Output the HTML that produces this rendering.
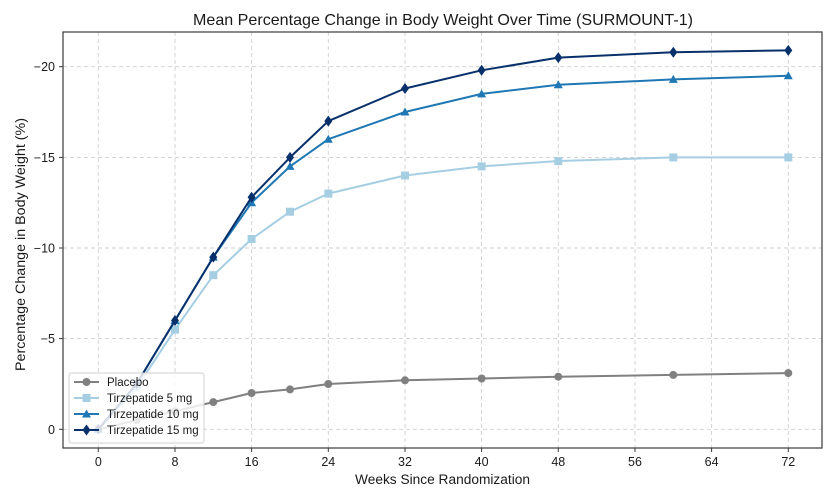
<!DOCTYPE html>
<html>
<head>
<meta charset="utf-8">
<style>
  html,body{margin:0;padding:0;background:#fff;}
  svg{display:block;}
  text{font-family:"Liberation Sans", "DejaVu Sans", sans-serif;fill:#1a1a1a;}
</style>
</head>
<body>
<svg width="834" height="500" viewBox="0 0 834 500" xmlns="http://www.w3.org/2000/svg">
  <rect x="0" y="0" width="834" height="500" fill="#fff"/>
  <text x="193" y="25" font-size="16" textLength="500" lengthAdjust="spacingAndGlyphs">Mean Percentage Change in Body Weight Over Time (SURMOUNT-1)</text>

  <g stroke="#cfcfcf" stroke-width="0.9" stroke-dasharray="4,3" fill="none">
    <line x1="98.3" y1="32" x2="98.3" y2="448"/>
    <line x1="175" y1="32" x2="175" y2="448"/>
    <line x1="251.6" y1="32" x2="251.6" y2="448"/>
    <line x1="328.3" y1="32" x2="328.3" y2="448"/>
    <line x1="405" y1="32" x2="405" y2="448"/>
    <line x1="481.6" y1="32" x2="481.6" y2="448"/>
    <line x1="558.3" y1="32" x2="558.3" y2="448"/>
    <line x1="635" y1="32" x2="635" y2="448"/>
    <line x1="711.6" y1="32" x2="711.6" y2="448"/>
    <line x1="788.3" y1="32" x2="788.3" y2="448"/>
    <line x1="63" y1="429.3" x2="822" y2="429.3"/>
    <line x1="63" y1="338.6" x2="822" y2="338.6"/>
    <line x1="63" y1="248" x2="822" y2="248"/>
    <line x1="63" y1="157.4" x2="822" y2="157.4"/>
    <line x1="63" y1="66.7" x2="822" y2="66.7"/>
  </g>

  <g>
    <polyline fill="none" stroke="#808080" stroke-width="2" stroke-linejoin="round"
      points="98.3,429.3 136.6,420.2 175,411.2 213.3,402.1 251.6,393 290,389.4 328.3,384 405,380.3 481.6,378.5 558.3,376.7 673.3,374.9 788.3,373.1"/>
    <g fill="#808080">
      <circle cx="98.3" cy="429.3" r="4"/><circle cx="136.6" cy="420.2" r="4"/><circle cx="175" cy="411.2" r="4"/>
      <circle cx="213.3" cy="402.1" r="4"/><circle cx="251.6" cy="393" r="4"/><circle cx="290" cy="389.4" r="4"/>
      <circle cx="328.3" cy="384" r="4"/><circle cx="405" cy="380.3" r="4"/><circle cx="481.6" cy="378.5" r="4"/>
      <circle cx="558.3" cy="376.7" r="4"/><circle cx="673.3" cy="374.9" r="4"/><circle cx="788.3" cy="373.1" r="4"/>
    </g>
  </g>

  <g>
    <polyline fill="none" stroke="#a6cee3" stroke-width="2" stroke-linejoin="round"
      points="98.3,429.3 136.6,387.6 175,329.6 213.3,275.2 251.6,239 290,211.7 328.3,193.6 405,175.5 481.6,166.4 558.3,161 673.3,157.4 788.3,157.4"/>
    <g fill="#a6cee3">
      <rect x="94.3" y="425.3" width="8" height="8"/><rect x="132.6" y="383.6" width="8" height="8"/>
      <rect x="171" y="325.6" width="8" height="8"/><rect x="209.3" y="271.2" width="8" height="8"/>
      <rect x="247.6" y="235" width="8" height="8"/><rect x="286" y="207.7" width="8" height="8"/>
      <rect x="324.3" y="189.6" width="8" height="8"/><rect x="401" y="171.5" width="8" height="8"/>
      <rect x="477.6" y="162.4" width="8" height="8"/><rect x="554.3" y="157" width="8" height="8"/>
      <rect x="669.3" y="153.4" width="8" height="8"/><rect x="784.3" y="153.4" width="8" height="8"/>
    </g>
  </g>

  <g>
    <polyline fill="none" stroke="#1f78b4" stroke-width="2" stroke-linejoin="round"
      points="98.3,429.3 136.6,384 175,320.5 213.3,257.1 251.6,202.7 290,166.4 328.3,139.2 405,112 481.6,93.9 558.3,84.8 673.3,79.4 788.3,75.8"/>
    <g fill="#1f78b4">
      <polygon points="98.3,424.8 102.8,432.8 93.8,432.8"/>
      <polygon points="136.6,379.5 141.1,387.5 132.1,387.5"/>
      <polygon points="175,316 179.5,324 170.5,324"/>
      <polygon points="213.3,252.6 217.8,260.6 208.8,260.6"/>
      <polygon points="251.6,198.2 256.1,206.2 247.1,206.2"/>
      <polygon points="290,161.9 294.5,169.9 285.5,169.9"/>
      <polygon points="328.3,134.7 332.8,142.7 323.8,142.7"/>
      <polygon points="405,107.5 409.5,115.5 400.5,115.5"/>
      <polygon points="481.6,89.4 486.1,97.4 477.1,97.4"/>
      <polygon points="558.3,80.3 562.8,88.3 553.8,88.3"/>
      <polygon points="673.3,74.9 677.8,82.9 668.8,82.9"/>
      <polygon points="788.3,71.3 792.8,79.3 783.8,79.3"/>
    </g>
  </g>

  <g>
    <polyline fill="none" stroke="#08306b" stroke-width="2" stroke-linejoin="round"
      points="98.3,429.3 136.6,384 175,320.5 213.3,257.1 251.6,197.2 290,157.4 328.3,121.1 405,88.5 481.6,70.3 558.3,57.6 673.3,52.2 788.3,50.4"/>
    <g fill="#08306b">
      <polygon points="98.3,423.8 102.3,429.3 98.3,434.8 94.3,429.3"/>
      <polygon points="136.6,378.5 140.6,384 136.6,389.5 132.6,384"/>
      <polygon points="175,315 179,320.5 175,326 171,320.5"/>
      <polygon points="213.3,251.6 217.3,257.1 213.3,262.6 209.3,257.1"/>
      <polygon points="251.6,191.7 255.6,197.2 251.6,202.7 247.6,197.2"/>
      <polygon points="290,151.9 294,157.4 290,162.9 286,157.4"/>
      <polygon points="328.3,115.6 332.3,121.1 328.3,126.6 324.3,121.1"/>
      <polygon points="405,83 409,88.5 405,94 401,88.5"/>
      <polygon points="481.6,64.8 485.6,70.3 481.6,75.8 477.6,70.3"/>
      <polygon points="558.3,52.1 562.3,57.6 558.3,63.1 554.3,57.6"/>
      <polygon points="673.3,46.7 677.3,52.2 673.3,57.7 669.3,52.2"/>
      <polygon points="788.3,44.9 792.3,50.4 788.3,55.9 784.3,50.4"/>
    </g>
  </g>

  <rect x="63" y="32" width="759" height="416" fill="none" stroke="#3a3a3a" stroke-width="1.2"/>

  <g stroke="#3a3a3a" stroke-width="1">
    <line x1="98.3" y1="448" x2="98.3" y2="452"/>
    <line x1="175" y1="448" x2="175" y2="452"/>
    <line x1="251.6" y1="448" x2="251.6" y2="452"/>
    <line x1="328.3" y1="448" x2="328.3" y2="452"/>
    <line x1="405" y1="448" x2="405" y2="452"/>
    <line x1="481.6" y1="448" x2="481.6" y2="452"/>
    <line x1="558.3" y1="448" x2="558.3" y2="452"/>
    <line x1="635" y1="448" x2="635" y2="452"/>
    <line x1="711.6" y1="448" x2="711.6" y2="452"/>
    <line x1="788.3" y1="448" x2="788.3" y2="452"/>
    <line x1="59" y1="429.3" x2="63" y2="429.3"/>
    <line x1="59" y1="338.6" x2="63" y2="338.6"/>
    <line x1="59" y1="248" x2="63" y2="248"/>
    <line x1="59" y1="157.4" x2="63" y2="157.4"/>
    <line x1="59" y1="66.7" x2="63" y2="66.7"/>
  </g>

  <g font-size="12.5" text-anchor="middle">
    <text x="98.3" y="466">0</text>
    <text x="175" y="466">8</text>
    <text x="251.6" y="466">16</text>
    <text x="328.3" y="466">24</text>
    <text x="405" y="466">32</text>
    <text x="481.6" y="466">40</text>
    <text x="558.3" y="466">48</text>
    <text x="635" y="466">56</text>
    <text x="711.6" y="466">64</text>
    <text x="788.3" y="466">72</text>
  </g>
  <g font-size="12.5" text-anchor="end">
    <text x="55" y="433.8">0</text>
    <text x="55" y="343.1">−5</text>
    <text x="55" y="252.5">−10</text>
    <text x="55" y="161.9">−15</text>
    <text x="55" y="71.2">−20</text>
  </g>

  <text x="355" y="484" font-size="13.5" textLength="175" lengthAdjust="spacingAndGlyphs">Weeks Since Randomization</text>
  <text transform="translate(25,371) rotate(-90)" x="0" y="0" font-size="13.5" textLength="253" lengthAdjust="spacingAndGlyphs">Percentage Change in Body Weight (%)</text>

  <rect x="69" y="373" width="135" height="70" rx="2.5" fill="#fff" fill-opacity="0.82" stroke="#d0d0d0" stroke-width="1"/>
  <g>
    <line x1="74" y1="382" x2="99" y2="382" stroke="#808080" stroke-width="2"/>
    <circle cx="86.5" cy="382" r="4" fill="#808080"/>
    <line x1="74" y1="398" x2="99" y2="398" stroke="#a6cee3" stroke-width="2"/>
    <rect x="82.5" y="394" width="8" height="8" fill="#a6cee3"/>
    <line x1="74" y1="414" x2="99" y2="414" stroke="#1f78b4" stroke-width="2"/>
    <polygon points="86.5,409.5 91,417.5 82,417.5" fill="#1f78b4"/>
    <line x1="74" y1="430" x2="99" y2="430" stroke="#08306b" stroke-width="2"/>
    <polygon points="86.5,424.5 90.5,430 86.5,435.5 82.5,430" fill="#08306b"/>
  </g>
  <g font-size="11.5">
    <text x="107" y="386">Placebo</text>
    <text x="107" y="402">Tirzepatide 5 mg</text>
    <text x="107" y="418">Tirzepatide 10 mg</text>
    <text x="107" y="434">Tirzepatide 15 mg</text>
  </g>
</svg>
</body>
</html>
